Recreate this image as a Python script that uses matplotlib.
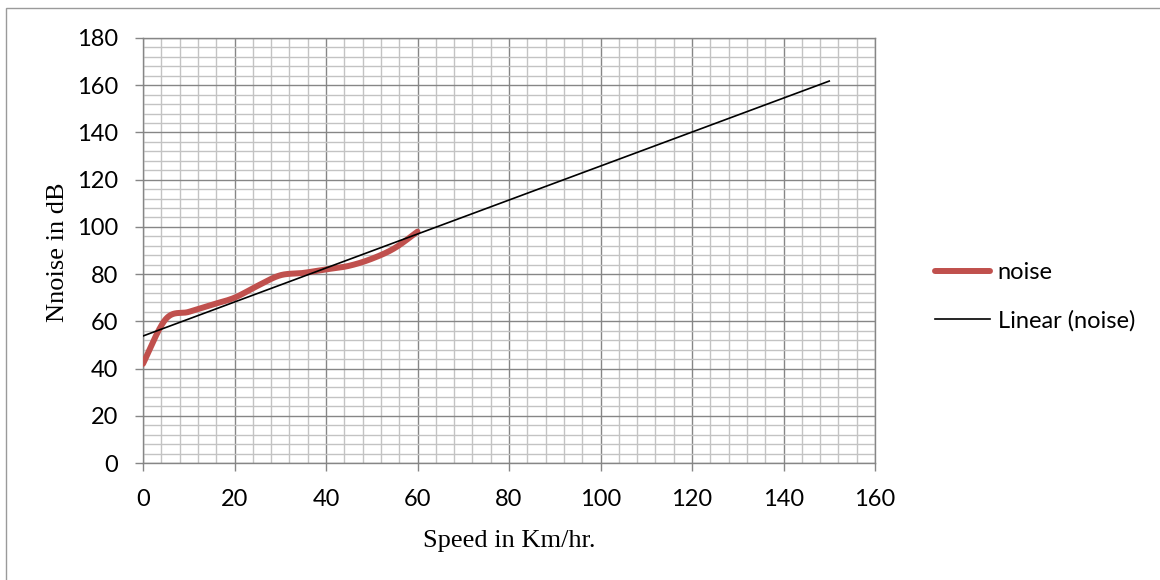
import numpy as np
import matplotlib
matplotlib.use("Agg")
import matplotlib.pyplot as plt
from matplotlib.patches import Rectangle
from matplotlib.ticker import MultipleLocator

# Measured noise level at each speed
speed = [0, 5, 10, 15, 20, 25, 30, 35, 40, 45, 50, 55, 60]
noise = [42, 61, 64, 67, 70, 75, 79.5, 80.5, 82, 83.5, 86.5, 91, 98]

x_ticks = [0, 20, 40, 60, 80, 100, 120, 140, 160]
y_ticks = [0, 20, 40, 60, 80, 100, 120, 140, 160, 180]

trend_end = 150  # linear trend projected forward to this speed

TICK_FONT = "Lato"
LABEL_FONT = "Liberation Serif"
GRID_MAJOR = "#868686"
GRID_MINOR = "#c3c3c3"


def smooth_curve(xs, ys, n=40):
    """Piecewise cubic Bezier through the points (spreadsheet-style smoothed line)."""
    p = np.column_stack([xs, ys]).astype(float)
    out = []
    m = len(p)
    for i in range(m - 1):
        p0 = p[i - 1] if i > 0 else p[i]
        p1 = p[i]
        p2 = p[i + 1]
        p3 = p[i + 2] if i + 2 < m else p[i + 1]
        c1 = p1 + (p2 - p0) / 6.0
        c2 = p2 - (p3 - p1) / 6.0
        t = np.linspace(0, 1, n)[:, None]
        seg = ((1 - t) ** 3) * p1 + 3 * ((1 - t) ** 2) * t * c1 + 3 * (1 - t) * t ** 2 * c2 + t ** 3 * p2
        out.append(seg if i == 0 else seg[1:])
    seg = np.vstack(out)
    return seg[:, 0], seg[:, 1]


fig = plt.figure(figsize=(11.6, 5.8), dpi=100)
fig.patch.set_facecolor("white")

# outer chart-area frame
fig.patches.append(Rectangle((6 / 1160, -0.5), 2.0, 0.5 + (1 - 8 / 580),
                             transform=fig.transFigure, fill=False,
                             edgecolor="#9a9a9a", linewidth=1.0, zorder=0))

ax = fig.add_axes([143 / 1160, 1 - 463 / 580, (875 - 143) / 1160, (463 - 38) / 580])

ax.set_xlim(0, 160)
ax.set_ylim(0, 180)
ax.xaxis.set_minor_locator(MultipleLocator(4))
ax.yaxis.set_minor_locator(MultipleLocator(4))
ax.set_xticks(x_ticks)
ax.set_yticks(y_ticks)

ax.grid(which="minor", color=GRID_MINOR, linewidth=1.0, zorder=0)
ax.grid(which="major", color=GRID_MAJOR, linewidth=1.0, zorder=0.5)
ax.set_axisbelow(True)

for s in ax.spines.values():
    s.set_color(GRID_MAJOR)
    s.set_linewidth(1.0)

ax.tick_params(which="major", direction="out", length=6, width=1.0, color=GRID_MAJOR,
               labelsize=17)
ax.tick_params(which="minor", length=0)
ax.tick_params(axis="y", pad=12)
ax.tick_params(axis="x", pad=13)
for lab in ax.get_xticklabels() + ax.get_yticklabels():
    lab.set_fontfamily(TICK_FONT)

# smoothed data line
sx, sy = smooth_curve(speed, noise)
ax.plot(sx, sy, color="#C0504D", linewidth=4.3, solid_capstyle="round",
        label="noise", zorder=3)

# least-squares linear trend, extended forward
slope, intercept = np.polyfit(speed, noise, 1)
tx = np.array([speed[0], trend_end], dtype=float)
ax.plot(tx, slope * tx + intercept, color="black", linewidth=1.2,
        label="Linear (noise)", zorder=4)

ax.set_xlabel("Speed in Km/hr.", fontfamily=LABEL_FONT, fontsize=19, va="baseline")
ax.xaxis.set_label_coords(0.5, (463 - 547) / 425)
ax.set_ylabel("Nnoise in dB", fontfamily=LABEL_FONT, fontsize=19, va="center")
ax.yaxis.set_label_coords((58 - 143) / 732, (463 - 252) / 425)

leg = ax.legend(loc="upper left", bbox_to_anchor=(935 / 1160, 1 - 262 / 580),
                bbox_transform=fig.transFigure, frameon=False,
                prop={"family": TICK_FONT, "size": 17},
                handlelength=2.35, handletextpad=0.3, labelspacing=1.15,
                borderpad=0, borderaxespad=0)

fig.savefig("out.png", dpi=100, facecolor="white")
